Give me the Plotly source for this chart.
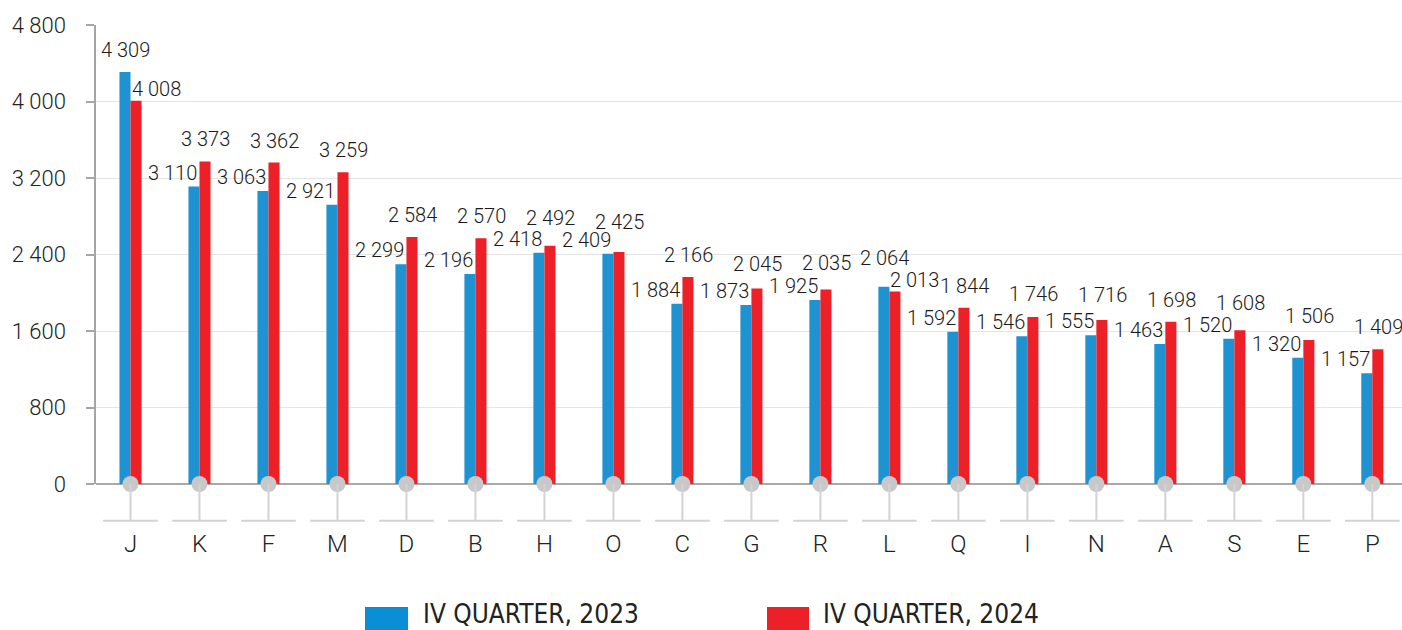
import plotly.graph_objects as go

categories = ["J", "K", "F", "M", "D", "B", "H", "O", "C", "G", "R", "L", "Q", "I", "N", "A", "S", "E", "P"]
q4_2023 = [4309, 3110, 3063, 2921, 2299, 2196, 2418, 2409, 1884, 1873, 1925, 2064, 1592, 1546, 1555, 1463, 1520, 1320, 1157]
q4_2024 = [4008, 3373, 3362, 3259, 2584, 2570, 2492, 2425, 2166, 2045, 2035, 2013, 1844, 1746, 1716, 1698, 1608, 1506, 1409]
series_names = ["IV QUARTER, 2023", "IV QUARTER, 2024"]
y_ticks = [0, 800, 1600, 2400, 3200, 4000, 4800]

BLUE = "#1f93d2"
RED = "#ed1f27"
LEG_BLUE = "#0a8fd6"
GREY = "#c8c8c9"
FONT = "Roboto"
Y_MAX = 4800


def fmt(v):
    return f"{v:,}".replace(",", " ")


n = len(categories)
idx = list(range(n))

W, H = 1402, 630
ML, MR, MT, MB = 96, 0, 25, 107
pw, ph = W - ML - MR, H - MT - MB
Y_BASE_PX = 484  # pixel row of the value axis zero line
d = (H - MB - Y_BASE_PX) / ph
px_per_unit = (ph * (1 - d)) / Y_MAX

fig = go.Figure()
fig.add_trace(go.Bar(x=idx, y=q4_2023, name=series_names[0], marker=dict(color=BLUE, line=dict(width=0)),
                     xaxis="x", yaxis="y", showlegend=False))
fig.add_trace(go.Bar(x=idx, y=q4_2024, name=series_names[1], marker=dict(color=RED, line=dict(width=0)),
                     xaxis="x", yaxis="y", showlegend=False))

# grey circles at the baseline
fig.add_trace(go.Scatter(x=idx, y=[0] * n, mode="markers", cliponaxis=False,
                         marker=dict(size=16, color=GREY, line=dict(width=0)),
                         xaxis="x", yaxis="y", showlegend=False, hoverinfo="skip"))

# stems and feet under each category (secondary strip axis)
sx, sy = [], []
for i in idx:
    sx += [i, i, None]
    sy += [1, 0, None]
fig.add_trace(go.Scatter(x=sx, y=sy, mode="lines", line=dict(color="#d3d3d4", width=2),
                         xaxis="x", yaxis="y2", showlegend=False, hoverinfo="skip", cliponaxis=False))
fig.add_trace(go.Scatter(x=idx, y=[0] * n, mode="markers", cliponaxis=False,
                         marker=dict(symbol="line-ew", size=39, line=dict(color="#d3d3d4", width=2)),
                         xaxis="x", yaxis="y2", showlegend=False, hoverinfo="skip"))

annotations = []
lab_font = dict(family=FONT, size=20, color="#1a1a1a", weight=300)
for i in idx:
    a, b = q4_2023[i], q4_2024[i]
    diff_px = abs(b - a) * px_per_unit
    gap = max(14, 23 - 0.4 * diff_px)  # baseline gap above the taller bar
    if b >= a:
        annotations.append(dict(x=i, y=a, xref="x", yref="y", text=fmt(a), showarrow=False,
                                xanchor="right", yanchor="bottom", xshift=0, yshift=0, font=lab_font))
        annotations.append(dict(x=i, y=b, xref="x", yref="y", text=fmt(b), showarrow=False,
                                xanchor="center", yanchor="bottom", xshift=6, yshift=gap - 6, font=lab_font))
    else:
        annotations.append(dict(x=i, y=a, xref="x", yref="y", text=fmt(a), showarrow=False,
                                xanchor="center", yanchor="bottom", xshift=-5, yshift=gap - 6, font=lab_font))
        annotations.append(dict(x=i, y=b, xref="x", yref="y", text=fmt(b), showarrow=False,
                                xanchor="left", yanchor="bottom", xshift=-1, yshift=-2, font=lab_font))


def pxp(x):
    return (x - ML) / pw


def pyp(y):
    return (H - MB - y) / ph


shapes = []
leg_items = [(series_names[0], LEG_BLUE, 365, 408, 422), (series_names[1], RED, 767, 809, 822)]
leg_font = dict(family="Liberation Sans Narrow, DejaVu Sans Condensed, sans-serif", size=26,
                color="#222222")
for name, col, x0, x1, tx in leg_items:
    shapes.append(dict(type="rect", xref="paper", yref="paper", x0=pxp(x0), x1=pxp(x1), y0=pyp(634), y1=pyp(607),
                       fillcolor=col, line=dict(width=0), layer="above"))
    annotations.append(dict(x=pxp(tx), y=pyp(630), xref="paper", yref="paper", text=name, showarrow=False,
                            xanchor="left", yanchor="bottom", borderpad=0, font=leg_font))

fig.update_layout(
    width=W, height=H,
    margin=dict(l=ML, r=MR, t=MT, b=MB, pad=0),
    paper_bgcolor="white", plot_bgcolor="white",
    barmode="group", bargap=0.68, bargroupgap=0,
    separators=". ",
    font=dict(family=FONT, color="#222222"),
    xaxis=dict(anchor="y2", range=[-0.5, 18.43], tickmode="array", tickvals=idx, ticktext=categories,
               showgrid=False, zeroline=False, showline=False, ticks="",
               tickfont=dict(family=FONT, size=24, color="#222222", weight=300), ticklabelstandoff=4),
    yaxis=dict(domain=[d, 1], range=[0, Y_MAX], tickmode="array", tickvals=y_ticks,
               ticktext=[fmt(v) for v in y_ticks],
               showgrid=True, gridcolor="#e4e4e4", gridwidth=1,
               zeroline=True, zerolinecolor="#a9a9a9", zerolinewidth=2,
               showline=True, linecolor="#a5a5a5", linewidth=1.5,
               ticks="outside", ticklen=8, tickcolor="#a5a5a5", tickwidth=1.5,
               tickfont=dict(family=FONT, size=22, color="#222222", weight=300), ticklabelstandoff=16),
    yaxis2=dict(domain=[0, d], range=[-0.06, 1], visible=False, anchor="x"),
    annotations=annotations,
    shapes=shapes,
    showlegend=False,
)

fig.write_html("out.html", config={"displayModeBar": False},
               post_script="document.body.style.margin='0';document.body.style.overflow='hidden';")
